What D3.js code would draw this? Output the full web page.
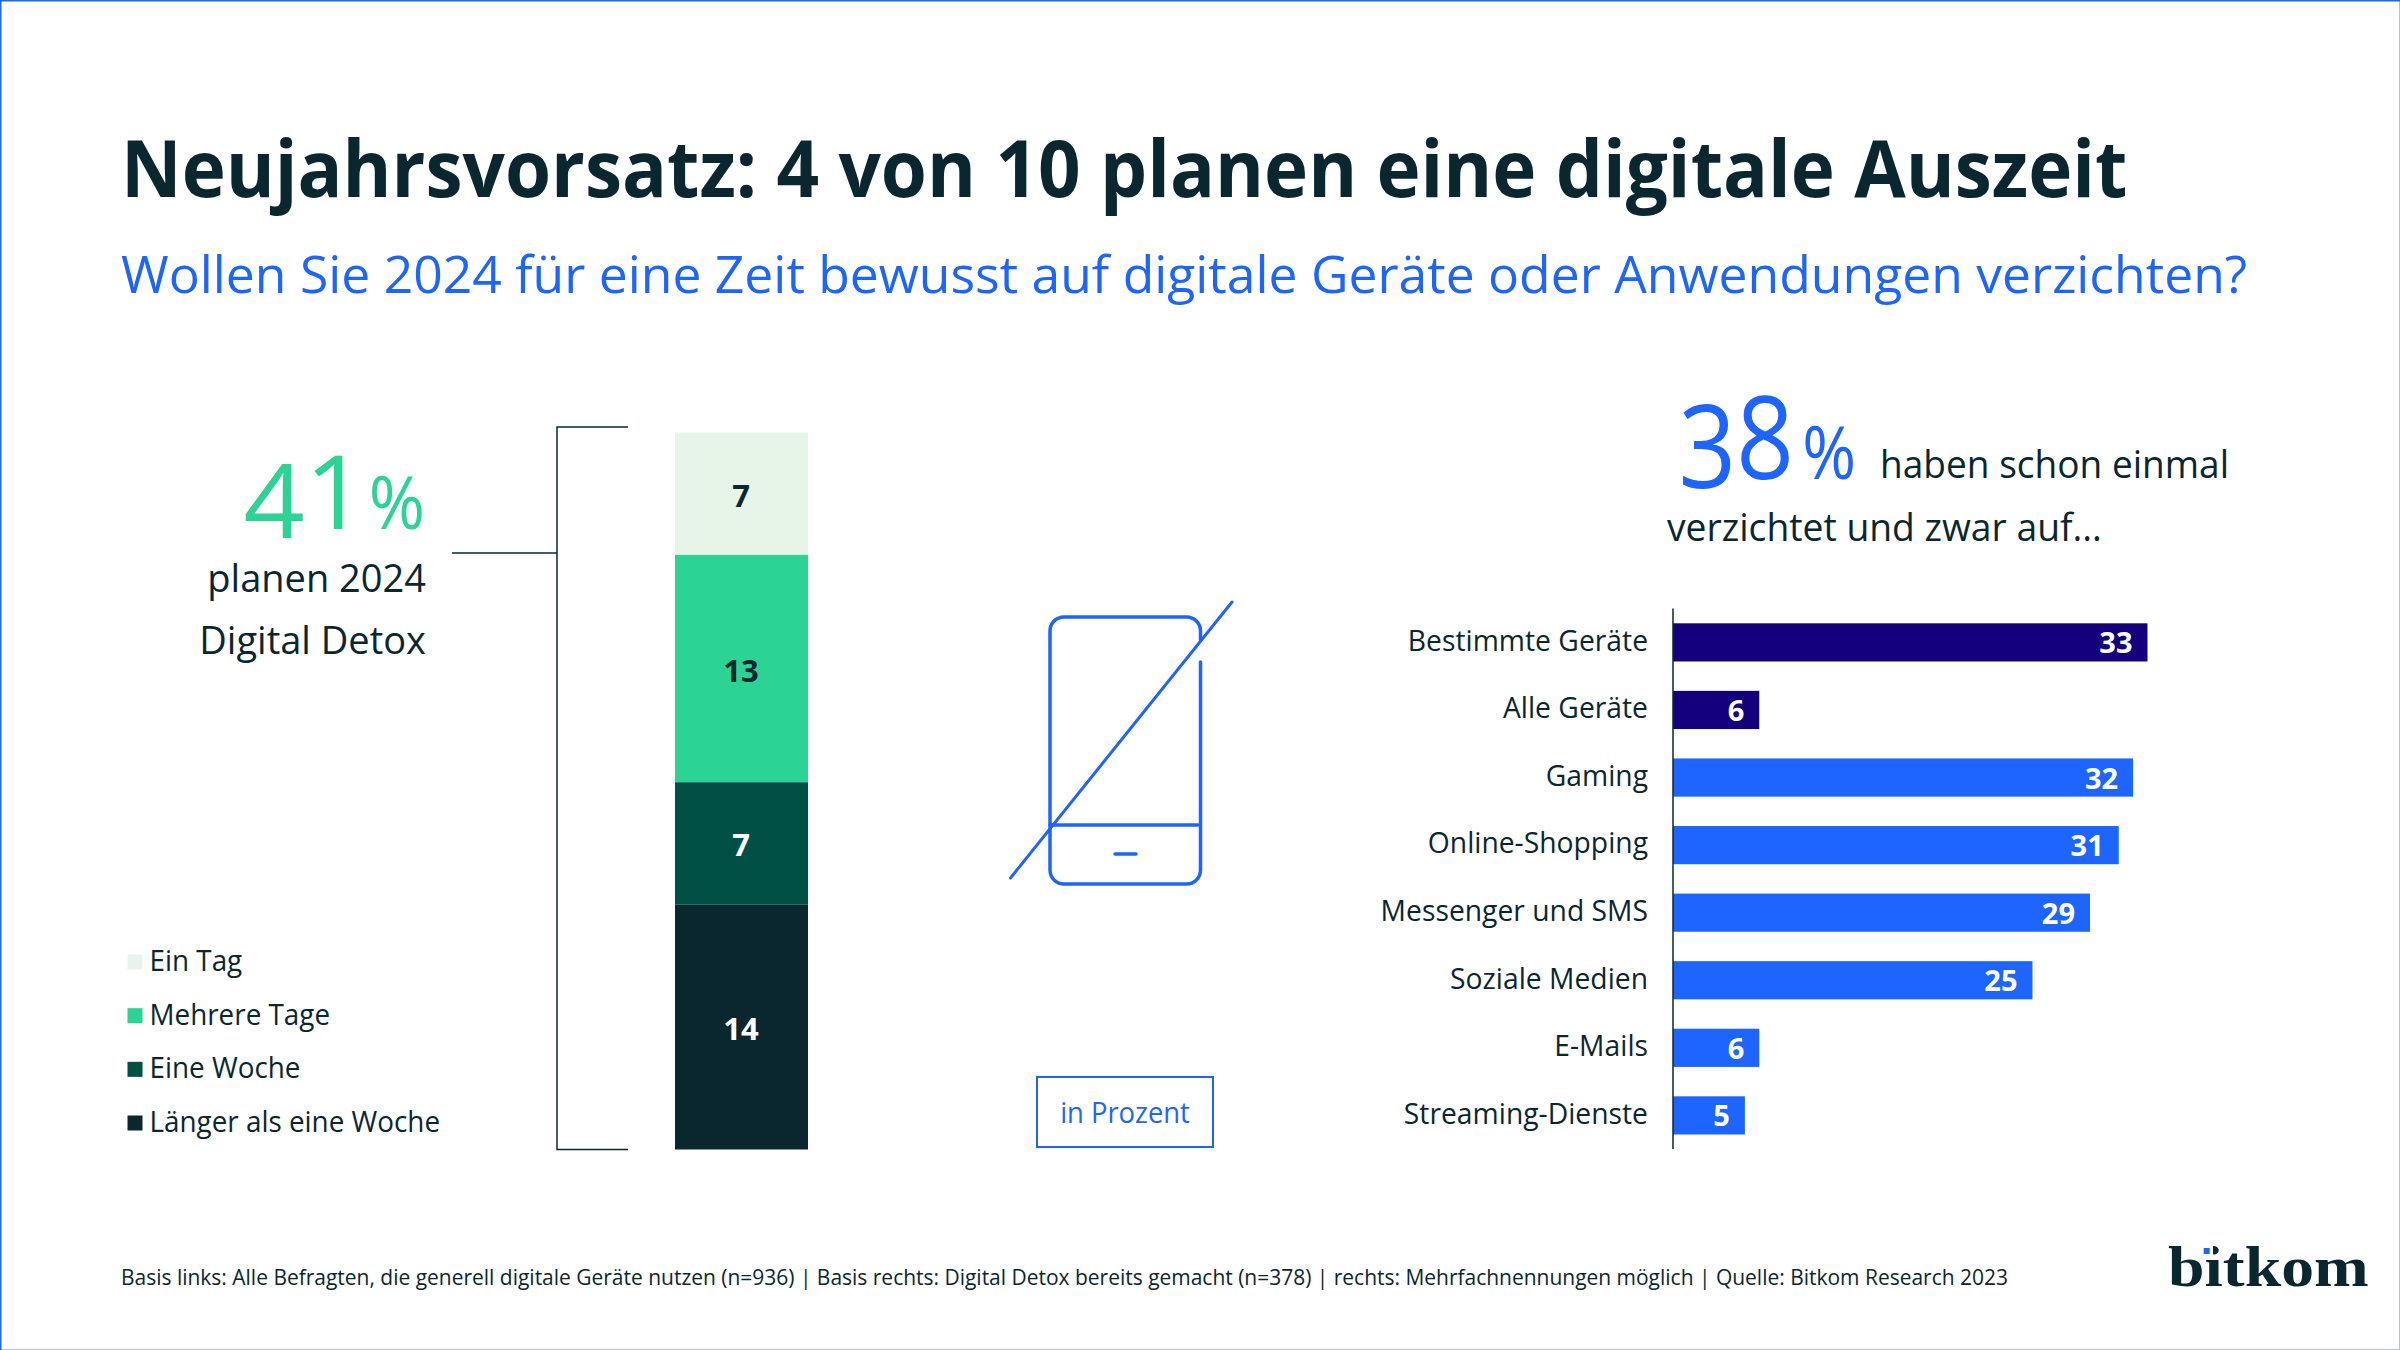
<!DOCTYPE html>
<html>
<head>
<meta charset="utf-8">
<script src="https://d3js.org/d3.v7.min.js"></script>
<style>
  body { margin: 0; background: #fff; }
  text { font-family: "Open Sans", "Noto Sans", sans-serif; }
</style>
</head>
<body>
<div id="chart"></div>
<script>
// Stacked bar on the left
var stackKeys = ['Ein Tag', 'Mehrere Tage', 'Eine Woche', 'Länger als eine Woche'];
var stackValues = [7, 13, 7, 14];
var stackColors = ['#e6f5e8', '#2bd395', '#005045', '#0a2730'];
var stackTextColors = ['#0a2730', '#0a2730', '#ffffff', '#ffffff'];

// Horizontal bars on the right
var barCategories = ['Bestimmte Geräte', 'Alle Geräte', 'Gaming', 'Online-Shopping', 'Messenger und SMS', 'Soziale Medien', 'E-Mails', 'Streaming-Dienste'];
var barValues = [33, 6, 32, 31, 29, 25, 6, 5];
var barColors = ['#14007d', '#14007d', '#1e64ff', '#1e64ff', '#1e64ff', '#1e64ff', '#1e64ff', '#1e64ff'];

var dark = '#0a2730';
var blue = '#1e64ff';
var green = '#2bd395';

var svg = d3.select('#chart').append('svg')
    .attr('width', 2400)
    .attr('height', 1350)
    .style('display', 'block');

// thin frame round the picture, stronger on the top and left edge
svg.append('rect')
    .attr('x', 0.5).attr('y', 0.5)
    .attr('width', 2399).attr('height', 1349)
    .style('fill', 'none')
    .style('stroke', '#a9c4f5')
    .style('stroke-width', 1);
svg.append('path')
    .attr('d', 'M0.75,1350V0.75H2400')
    .style('fill', 'none')
    .style('stroke', blue)
    .style('stroke-width', 1.5);

// the original typeface is narrower than the installed ones, so squeeze to fit
function squeeze(sel, ratio) {
  sel.each(function() {
    var len = this.getComputedTextLength();
    d3.select(this)
        .attr('textLength', len * ratio)
        .attr('lengthAdjust', 'spacingAndGlyphs');
  });
  return sel;
}

// little helper so every text line reads the same way
function addText(str, x, y, size, color, weight, anchor, ratio) {
  var t = svg.append('text')
      .attr('x', x)
      .attr('y', y)
      .attr('text-anchor', anchor || 'start')
      .style('font-size', size + 'px')
      .style('font-weight', weight || 400)
      .style('fill', color)
      .text(str);
  return ratio ? squeeze(t, ratio) : t;
}

addText('Neujahrsvorsatz: 4 von 10 planen eine digitale Auszeit', 121, 197, 79, dark, 700, 'start', 0.944);
addText('Wollen Sie 2024 für eine Zeit bewusst auf digitale Geräte oder Anwendungen verzichten?', 121, 293, 52, blue, 400, 'start', 0.993);

// 41 % block, the first figure hangs below the line as in the original
addText('41', 366, 529, 102, green, 400, 'end', 1.05).attr('dy', '9 -9');
addText('%', 425, 529, 74, green, 400, 'end', 0.92);
addText('planen 2024', 426, 592, 38, dark, 400, 'end');
addText('Digital Detox', 426, 654, 38, dark, 400, 'end');

// bracket
svg.append('path')
    .attr('d', 'M628,427H557V1149.5H628M557,553H452')
    .style('fill', 'none')
    .style('stroke', dark)
    .style('stroke-width', 1.5);

// stacked bar
var stackRow = {};
stackKeys.forEach(function(k, i) { stackRow[k] = stackValues[i]; });
var stacked = d3.stack().keys(stackKeys)([stackRow]);

var yStack = d3.scaleLinear()
    .domain([0, d3.sum(stackValues)])
    .range([432.5, 1149.5]);

var stackGroups = svg.selectAll('.stack')
    .data(stacked)
    .enter().append('g')
    .attr('class', 'stack');

stackGroups.append('rect')
    .attr('x', 675)
    .attr('width', 133)
    .attr('y', function(d) { return yStack(d[0][0]); })
    .attr('height', function(d) { return yStack(d[0][1]) - yStack(d[0][0]); })
    .style('fill', function(d, i) { return stackColors[i]; });

stackGroups.append('text')
    .attr('x', 741)
    .attr('y', function(d) { return (yStack(d[0][0]) + yStack(d[0][1])) / 2 + 13; })
    .attr('text-anchor', 'middle')
    .style('font-size', '31px')
    .style('font-weight', 700)
    .style('fill', function(d, i) { return stackTextColors[i]; })
    .text(function(d, i) { return stackValues[i]; });

// legend
var yLegend = d3.scalePoint()
    .domain(stackKeys)
    .range([962, 1123]);

var legend = svg.selectAll('.legend')
    .data(stackKeys)
    .enter().append('g')
    .attr('class', 'legend')
    .attr('transform', function(d) { return 'translate(127.5,' + yLegend(d) + ')'; });

legend.append('rect')
    .attr('y', -7.5)
    .attr('width', 15)
    .attr('height', 15)
    .style('fill', function(d, i) { return stackColors[i]; });

squeeze(legend.append('text')
    .attr('x', 22)
    .attr('y', 9)
    .style('font-size', '29px')
    .style('fill', dark)
    .text(function(d) { return d; }), 0.96);

// phone icon with the slash through it
var phone = svg.append('g')
    .style('fill', 'none')
    .style('stroke', blue)
    .style('stroke-width', 3.5)
    .style('stroke-linecap', 'round');
phone.append('path')
    .attr('d', 'M1200.5,662V870a14,14 0 0 1 -14,14H1064a14,14 0 0 1 -14,-14V631a14,14 0 0 1 14,-14H1186.5a14,14 0 0 1 14,14V640');
phone.append('path').attr('d', 'M1232,602L1010.5,878').style('stroke-width', 3);
phone.append('path').attr('d', 'M1050,825H1198');
phone.append('path').attr('d', 'M1115,854H1136');

// in Prozent box
svg.append('rect')
    .attr('x', 1037).attr('y', 1077)
    .attr('width', 176).attr('height', 70)
    .style('fill', 'none')
    .style('stroke', blue)
    .style('stroke-width', 2);
addText('in Prozent', 1125, 1123, 29, blue, 400, 'middle', 0.944);

// 38 % block
addText('38', 1794, 479, 116, blue, 400, 'end', 0.87).attr('dy', '9 -9');
addText('%', 1856, 479, 74, blue, 400, 'end', 0.88);
addText('haben schon einmal', 1880, 478, 38, dark, 400, 'start', 0.975);
addText('verzichtet und zwar auf...', 1667, 541, 38, dark, 400, 'start', 0.98);

// bar chart
var xBar = d3.scaleLinear()
    .domain([0, 33])
    .range([1673, 2147.5]);

var yBar = d3.scaleBand()
    .domain(barCategories)
    .range([623.3, 1134.5])
    .paddingInner(0.435)
    .paddingOuter(0);

svg.selectAll('.bar')
    .data(barCategories)
    .enter().append('rect')
    .attr('class', 'bar')
    .attr('x', xBar(0))
    .attr('y', function(d) { return yBar(d); })
    .attr('width', function(d, i) { return xBar(barValues[i]) - xBar(0); })
    .attr('height', yBar.bandwidth())
    .style('fill', function(d, i) { return barColors[i]; });

svg.selectAll('.barValue')
    .data(barCategories)
    .enter().append('text')
    .attr('class', 'barValue')
    .attr('x', function(d, i) { return xBar(barValues[i]) - 15; })
    .attr('y', function(d) { return yBar(d) + yBar.bandwidth() / 2 + 11; })
    .attr('text-anchor', 'end')
    .style('font-size', '29px')
    .style('font-weight', 700)
    .style('fill', '#ffffff')
    .text(function(d, i) { return barValues[i]; });

var yAxis = d3.axisLeft(yBar).tickSize(0).tickPadding(25);
var axisG = svg.append('g')
    .attr('transform', 'translate(' + xBar(0) + ',-1)')
    .call(yAxis);
axisG.select('.domain').remove();
squeeze(axisG.selectAll('text')
    .style('font-size', '29px')
    .style('fill', dark), 0.975);
svg.append('line')
    .attr('x1', xBar(0)).attr('x2', xBar(0))
    .attr('y1', 608.6).attr('y2', 1149)
    .style('stroke', dark)
    .style('stroke-width', 1.5);

// footer
addText('Basis links: Alle Befragten, die generell digitale Geräte nutzen (n=936) | Basis rechts: Digital Detox bereits gemacht (n=378) | rechts: Mehrfachnennungen möglich | Quelle: Bitkom Research 2023', 121, 1285, 22, dark, 400, 'start', 0.953);

// logo, the i gets a square blue dot
addText('bitkom', 2168, 1286, 57, dark, 700, 'start', 0.98).style('font-family', '"Liberation Serif", serif');
svg.append('rect')
    .attr('x', 2201).attr('y', 1243)
    .attr('width', 12).attr('height', 12.5)
    .style('fill', '#ffffff');
svg.append('rect')
    .attr('x', 2203.7).attr('y', 1248)
    .attr('width', 6).attr('height', 6)
    .style('fill', blue);
</script>
</body>
</html>
